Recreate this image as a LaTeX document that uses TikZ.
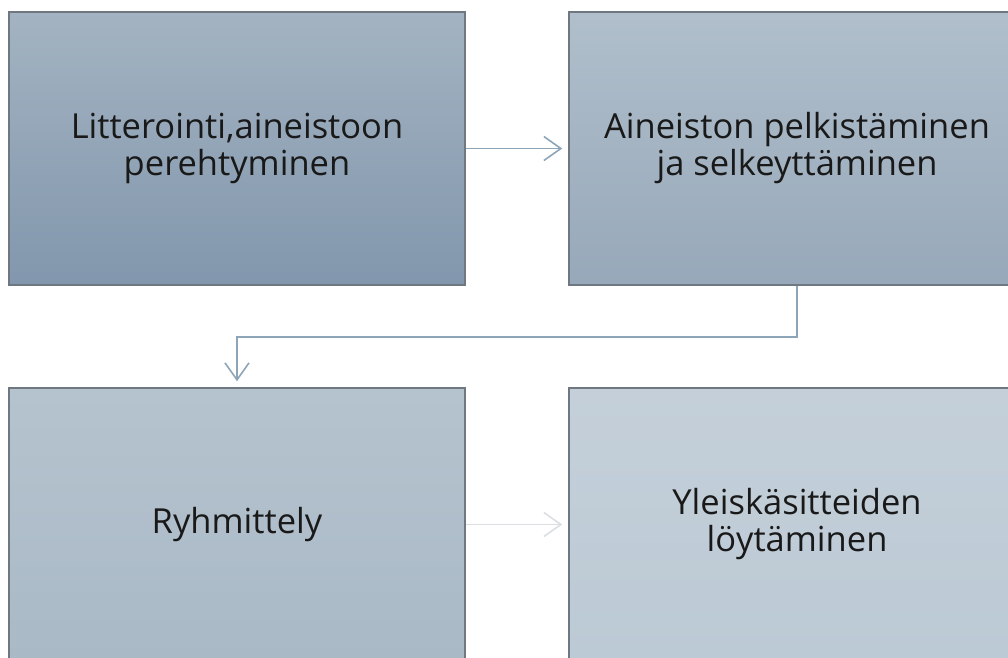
\documentclass[tikz,border=0pt]{standalone}
\usepackage{fontspec}
\setmainfont{Open Sans}
\usetikzlibrary{positioning,arrows.meta}

\definecolor{boxline}{HTML}{6F7880}
\definecolor{linkblue}{HTML}{8EA5B8}
\definecolor{linkgray}{HTML}{DCDFE2}

\begin{document}
\begin{tikzpicture}[x=1pt, y=-1pt,
    block/.style={rectangle, draw=boxline, line width=1.5pt, minimum width=456pt, minimum height=273pt, align=center, font=\fontsize{34.5}{37}\selectfont, text=black!90},
    arrow/.style={-{Straight Barb[length=17pt, width=24pt, line width=1.6pt]}, line width=1.8pt, draw=linkblue, shorten >=6pt}]

    \useasboundingbox (0,0) rectangle (1008,657);
    \begin{scope}
    \clip (0,0) rectangle (1008,657);

    % Top row
    \node[block, top color={rgb,255:red,163;green,179;blue,193}, bottom color={rgb,255:red,130;green,151;blue,173}] (litt) at (237,148.5) {Litterointi,aineistoon\\perehtyminen};
    \node[block, top color={rgb,255:red,176;green,191;blue,203}, bottom color={rgb,255:red,151;green,168;blue,186}] (pelk) at (797,148.5) {Aineiston pelkistäminen\\ja selkeyttäminen};

    % Bottom row
    \node[block, top color={rgb,255:red,181;green,195;blue,206}, bottom color={rgb,255:red,169;green,185;blue,198}] (ryhm) at (237,524.5) {Ryhmittely};
    \node[block, top color={rgb,255:red,196;green,207;blue,217}, bottom color={rgb,255:red,188;green,202;blue,213}] (yleis) at (797,524.5) {Yleiskäsitteiden\\löytäminen};
    \end{scope}

    % Connect steps
    \coordinate (bend) at (237,337);
    \draw[arrow] (litt) -- (pelk);
    \draw[arrow] (pelk.south) |- (bend) -- (ryhm.north);
    \draw[arrow, draw=linkgray] (ryhm) -- (yleis);
\end{tikzpicture}
\end{document}
